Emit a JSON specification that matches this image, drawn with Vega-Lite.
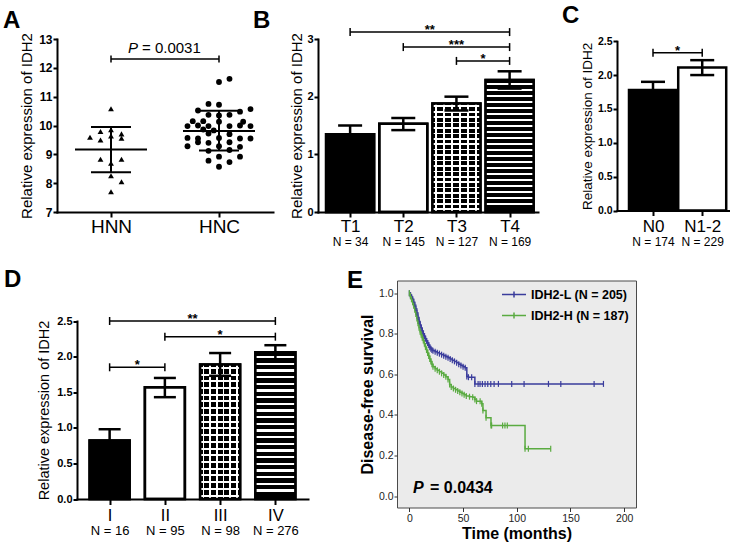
{
"$schema": "https://vega.github.io/schema/vega-lite/v6.json",
"background": "white",
"padding": {"left": 3, "top": 3, "right": 0, "bottom": 0},
"config": {
  "view": {"stroke": null},
  "font": "Liberation Sans",
  "axis": {"grid": false, "labelColor": "black", "titleColor": "black", "domainColor": "black", "tickColor": "black", "labelFont": "Liberation Sans", "titleFont": "Liberation Sans", "domainCap": "square", "labelFlush": false, "labelOverlap": false},
  "title": {"anchor": "start", "frame": "group", "fontSize": 24, "fontWeight": "bold", "color": "black", "font": "Liberation Sans", "baseline": "alphabetic", "offset": 12}
},
"columns": 1,
"spacing": 19.5,
"bounds": "full",
"align": "none",
"resolve": {"scale": {"color": "independent", "shape": "independent"}, "legend": {"color": "independent", "shape": "independent"}},
"concat": [
{"hconcat": [
{
 "width": 216, "height": 173,
 "title": {"text": "A", "dx": -54, "offset": 0},
 "resolve": {"axis": {"x": "independent"}},
 "layer": [
  {"data": {"values": [
    {"g":"HNN","j":0,"v":10.58},{"g":"HNN","j":-2,"v":9.59},{"g":"HNN","j":-1,"v":9.79},{"g":"HNN","j":-1,"v":9.5},{"g":"HNN","j":0,"v":9.64},{"g":"HNN","j":1,"v":9.71},{"g":"HNN","j":1,"v":9.56},{"g":"HNN","j":-1,"v":8.83},{"g":"HNN","j":0,"v":8.69},{"g":"HNN","j":1,"v":8.83},{"g":"HNN","j":0,"v":8.26},{"g":"HNN","j":1,"v":8.05},{"g":"HNN","j":0,"v":7.7},{"g":"HNN","j":0,"v":9.85},
    {"g":"HNC","j":0,"v":11.51},{"g":"HNC","j":1,"v":11.62},{"g":"HNC","j":-1,"v":10.75},{"g":"HNC","j":0,"v":10.72},{"g":"HNC","j":-2,"v":10.52},{"g":"HNC","j":2,"v":10.48},{"g":"HNC","j":3,"v":10.57},{"g":"HNC","j":-1,"v":10.37},{"g":"HNC","j":0,"v":10.35},{"g":"HNC","j":1,"v":10.37},{"g":"HNC","j":-2.5,"v":10.15},{"g":"HNC","j":-1.5,"v":10.15},{"g":"HNC","j":0,"v":10.13},{"g":"HNC","j":2.3,"v":10.13},{"g":"HNC","j":-3,"v":9.98},{"g":"HNC","j":-2,"v":10.0},{"g":"HNC","j":-1,"v":9.98},{"g":"HNC","j":1,"v":9.98},{"g":"HNC","j":2,"v":10.0},{"g":"HNC","j":3,"v":9.98},{"g":"HNC","j":-1.5,"v":9.86},{"g":"HNC","j":-0.5,"v":9.83},{"g":"HNC","j":-1,"v":9.72},{"g":"HNC","j":1,"v":9.7},{"g":"HNC","j":-3,"v":9.57},{"g":"HNC","j":-2,"v":9.55},{"g":"HNC","j":0,"v":9.57},{"g":"HNC","j":2,"v":9.55},{"g":"HNC","j":3,"v":9.55},{"g":"HNC","j":-2,"v":9.42},{"g":"HNC","j":-1,"v":9.4},{"g":"HNC","j":1,"v":9.42},{"g":"HNC","j":-3,"v":9.28},{"g":"HNC","j":0,"v":9.28},{"g":"HNC","j":2,"v":9.26},{"g":"HNC","j":-1,"v":9.12},{"g":"HNC","j":1,"v":9.15},{"g":"HNC","j":-1,"v":8.78},{"g":"HNC","j":0,"v":8.92},{"g":"HNC","j":1,"v":8.73},{"g":"HNC","j":2,"v":8.92},{"g":"HNC","j":0,"v":8.57}
   ]},
   "mark": {"type": "point", "filled": true, "color": "black", "opacity": 1, "size": 34},
   "encoding": {
    "x": {"field": "g", "type": "nominal", "scale": {"type": "point", "domain": ["HNN","HNC"], "padding": 0.5}, "title": null,
          "axis": {"orient": "bottom", "labelAngle": 0, "labelFontSize": 19, "labelPadding": 0, "tickSize": 5, "tickWidth": 2, "domainWidth": 2}},
    "xOffset": {"field": "j", "type": "quantitative", "scale": {"domain": [-3, 3], "range": [-31.5, 31.5]}},
    "y": {"field": "v", "type": "quantitative", "scale": {"domain": [7, 13], "nice": false, "zero": false},
          "axis": {"values": [7,8,9,10,11,12,13], "tickCount": 20, "format": "d", "labelOverlap": false, "labelFontSize": 12, "labelFontWeight": "bold", "labelPadding": 1, "tickSize": 4, "tickWidth": 2, "domainWidth": 2, "title": "Relative expression of IDH2", "titleFontSize": 15, "titleFontWeight": "normal", "titlePadding": 4}},
    "shape": {"field": "g", "type": "nominal", "scale": {"domain": ["HNN","HNC"], "range": ["triangle-up","circle"]}, "legend": null}
   }
  },
  {"data": {"values": [{"g":"HNN","mean":9.17,"hi":9.95,"lo":8.38},{"g":"HNC","mean":9.81,"hi":10.51,"lo":9.13}]},
   "layer": [
    {"mark": {"type": "rule", "strokeWidth": 2, "color": "black"},
     "encoding": {"x": {"field": "g", "type": "nominal", "axis": null}, "y": {"field": "lo", "type": "quantitative"}, "y2": {"field": "hi"}}},
    {"mark": {"type": "tick", "orient": "horizontal", "size": 72, "thickness": 2, "color": "black", "opacity": 1},
     "encoding": {"x": {"field": "g", "type": "nominal", "axis": null}, "y": {"field": "mean", "type": "quantitative"}}},
    {"mark": {"type": "tick", "orient": "horizontal", "size": 40, "thickness": 2, "color": "black", "opacity": 1},
     "encoding": {"x": {"field": "g", "type": "nominal", "axis": null}, "y": {"field": "hi", "type": "quantitative"}}},
    {"mark": {"type": "tick", "orient": "horizontal", "size": 40, "thickness": 2, "color": "black", "opacity": 1},
     "encoding": {"x": {"field": "g", "type": "nominal", "axis": null}, "y": {"field": "lo", "type": "quantitative"}}},
    {"mark": {"type": "text", "text": ""},
     "encoding": {"x": {"field": "g", "type": "nominal", "title": null,
       "axis": {"orient": "bottom", "offset": 23.4, "domain": false, "ticks": false, "tickSize": 0, "labelPadding": 0, "labelAngle": 0, "labelFontSize": 15.5, "labelExpr": "datum.value == 'HNN' ? 'N = 14' : 'N = 42'"}}}}
   ]
  },
  {"data": {"values": [{"a":"HNN","b":"HNC","y":12.31}]},
   "layer": [
    {"mark": {"type": "rule", "strokeWidth": 1.5, "color": "black"},
     "encoding": {"x": {"field": "a", "type": "nominal", "axis": null}, "x2": {"field": "b"}, "y": {"field": "y", "type": "quantitative"}}},
    {"mark": {"type": "point", "shape": "M0,-1L0,1", "size": 49, "filled": false, "color": "black", "strokeWidth": 1.5, "opacity": 1},
     "encoding": {"x": {"field": "a", "type": "nominal", "axis": null}, "y": {"field": "y", "type": "quantitative"}}},
    {"mark": {"type": "point", "shape": "M0,-1L0,1", "size": 49, "filled": false, "color": "black", "strokeWidth": 1.5, "opacity": 1},
     "encoding": {"x": {"field": "b", "type": "nominal", "axis": null}, "y": {"field": "y", "type": "quantitative"}}},
    {"mark": {"type": "text", "text": "P", "fontStyle": "italic", "fontSize": 15, "align": "left", "baseline": "alphabetic", "dx": 17, "dy": -6, "color": "black"},
     "encoding": {"x": {"field": "a", "type": "nominal", "axis": null}, "y": {"field": "y", "type": "quantitative"}}},
    {"mark": {"type": "text", "text": "= 0.0031", "fontSize": 15, "align": "left", "baseline": "alphabetic", "dx": 31, "dy": -6, "color": "black"},
     "encoding": {"x": {"field": "a", "type": "nominal", "axis": null}, "y": {"field": "y", "type": "quantitative"}}}
   ]
  }
 ]
},
{
 "width": 254, "height": 173,
 "title": {"text": "B", "dx": -65, "offset": -8.5},
 "resolve": {"axis": {"x": "independent"}},
 "data": {"values": [
   {"i":1,"cat":"T1","m":1.35,"lo":1.2,"hi":1.5},
   {"i":2,"cat":"T2","m":1.53,"lo":1.42,"hi":1.63},
   {"i":3,"cat":"T3","m":1.88,"lo":1.76,"hi":2.0},
   {"i":4,"cat":"T4","m":2.29,"lo":2.14,"hi":2.44}
 ]},
 "layer": [
  {"mark": {"type": "bar", "orient": "vertical", "size": 48, "stroke": "black", "strokeWidth": 2.5},
   "encoding": {
    "x": {"field": "i", "type": "quantitative", "title": null, "scale": {"domain": [0.49, 4.44], "range": [0, 220], "nice": false, "zero": false},
          "axis": {"orient": "bottom", "values": [1,2,3,4], "tickCount": 20, "labelExpr": "['','T1','T2','T3','T4'][datum.value]", "labelFontSize": 17, "labelPadding": 1, "tickSize": 5, "tickWidth": 2, "domainWidth": 2}},
    "y": {"field": "m", "type": "quantitative", "scale": {"domain": [0, 3], "nice": false},
          "axis": {"values": [0,1,2,3], "tickCount": 20, "format": "d", "labelOverlap": false, "labelFontSize": 11, "labelFontWeight": "bold", "labelPadding": 1, "tickSize": 4, "tickWidth": 2, "domainWidth": 2, "title": "Relative expression of IDH2", "titleFontSize": 15, "titleFontWeight": "normal", "titlePadding": 2}},
    "fill": {"condition": {"test": "datum.i == 2", "value": "white"}, "value": "black"}
   }},
  {"transform": [{"filter": "datum.i == 3"}],
   "mark": {"type": "bar", "orient": "vertical", "size": 48, "fill": {"gradient": "linear", "x1": 0, "y1": 0, "x2": 0, "y2": 1, "stops": [
    {"offset":0.0175,"color":"rgba(255,255,255,0)"},{"offset":0.0175,"color":"#ffffff"},{"offset":0.0325,"color":"#ffffff"},{"offset":0.0325,"color":"rgba(255,255,255,0)"},
    {"offset":0.0675,"color":"rgba(255,255,255,0)"},{"offset":0.0675,"color":"#ffffff"},{"offset":0.0825,"color":"#ffffff"},{"offset":0.0825,"color":"rgba(255,255,255,0)"},
    {"offset":0.1175,"color":"rgba(255,255,255,0)"},{"offset":0.1175,"color":"#ffffff"},{"offset":0.1325,"color":"#ffffff"},{"offset":0.1325,"color":"rgba(255,255,255,0)"},
    {"offset":0.1675,"color":"rgba(255,255,255,0)"},{"offset":0.1675,"color":"#ffffff"},{"offset":0.1825,"color":"#ffffff"},{"offset":0.1825,"color":"rgba(255,255,255,0)"},
    {"offset":0.2175,"color":"rgba(255,255,255,0)"},{"offset":0.2175,"color":"#ffffff"},{"offset":0.2325,"color":"#ffffff"},{"offset":0.2325,"color":"rgba(255,255,255,0)"},
    {"offset":0.2675,"color":"rgba(255,255,255,0)"},{"offset":0.2675,"color":"#ffffff"},{"offset":0.2825,"color":"#ffffff"},{"offset":0.2825,"color":"rgba(255,255,255,0)"},
    {"offset":0.3175,"color":"rgba(255,255,255,0)"},{"offset":0.3175,"color":"#ffffff"},{"offset":0.3325,"color":"#ffffff"},{"offset":0.3325,"color":"rgba(255,255,255,0)"},
    {"offset":0.3675,"color":"rgba(255,255,255,0)"},{"offset":0.3675,"color":"#ffffff"},{"offset":0.3825,"color":"#ffffff"},{"offset":0.3825,"color":"rgba(255,255,255,0)"},
    {"offset":0.4175,"color":"rgba(255,255,255,0)"},{"offset":0.4175,"color":"#ffffff"},{"offset":0.4325,"color":"#ffffff"},{"offset":0.4325,"color":"rgba(255,255,255,0)"},
    {"offset":0.4675,"color":"rgba(255,255,255,0)"},{"offset":0.4675,"color":"#ffffff"},{"offset":0.4825,"color":"#ffffff"},{"offset":0.4825,"color":"rgba(255,255,255,0)"},
    {"offset":0.5175,"color":"rgba(255,255,255,0)"},{"offset":0.5175,"color":"#ffffff"},{"offset":0.5325,"color":"#ffffff"},{"offset":0.5325,"color":"rgba(255,255,255,0)"},
    {"offset":0.5675,"color":"rgba(255,255,255,0)"},{"offset":0.5675,"color":"#ffffff"},{"offset":0.5825,"color":"#ffffff"},{"offset":0.5825,"color":"rgba(255,255,255,0)"},
    {"offset":0.6175,"color":"rgba(255,255,255,0)"},{"offset":0.6175,"color":"#ffffff"},{"offset":0.6325,"color":"#ffffff"},{"offset":0.6325,"color":"rgba(255,255,255,0)"},
    {"offset":0.6675,"color":"rgba(255,255,255,0)"},{"offset":0.6675,"color":"#ffffff"},{"offset":0.6825,"color":"#ffffff"},{"offset":0.6825,"color":"rgba(255,255,255,0)"},
    {"offset":0.7175,"color":"rgba(255,255,255,0)"},{"offset":0.7175,"color":"#ffffff"},{"offset":0.7325,"color":"#ffffff"},{"offset":0.7325,"color":"rgba(255,255,255,0)"},
    {"offset":0.7675,"color":"rgba(255,255,255,0)"},{"offset":0.7675,"color":"#ffffff"},{"offset":0.7825,"color":"#ffffff"},{"offset":0.7825,"color":"rgba(255,255,255,0)"},
    {"offset":0.8175,"color":"rgba(255,255,255,0)"},{"offset":0.8175,"color":"#ffffff"},{"offset":0.8325,"color":"#ffffff"},{"offset":0.8325,"color":"rgba(255,255,255,0)"},
    {"offset":0.8675,"color":"rgba(255,255,255,0)"},{"offset":0.8675,"color":"#ffffff"},{"offset":0.8825,"color":"#ffffff"},{"offset":0.8825,"color":"rgba(255,255,255,0)"},
    {"offset":0.9175,"color":"rgba(255,255,255,0)"},{"offset":0.9175,"color":"#ffffff"},{"offset":0.9325,"color":"#ffffff"},{"offset":0.9325,"color":"rgba(255,255,255,0)"},
    {"offset":0.9675,"color":"rgba(255,255,255,0)"},{"offset":0.9675,"color":"#ffffff"},{"offset":0.9825,"color":"#ffffff"},{"offset":0.9825,"color":"rgba(255,255,255,0)"}
   ]}},
   "encoding": {"x": {"field": "i", "type": "quantitative", "axis": null}, "y": {"field": "m", "type": "quantitative"}}},
  {"transform": [{"filter": "datum.i == 3"}],
   "mark": {"type": "bar", "orient": "vertical", "size": 48, "fill": {"gradient": "linear", "x1": 0, "y1": 0, "x2": 1, "y2": 0, "stops": [
    {"offset":0.0633,"color":"rgba(255,255,255,0)"},{"offset":0.0633,"color":"#ffffff"},{"offset":0.1033,"color":"#ffffff"},{"offset":0.1033,"color":"rgba(255,255,255,0)"},
    {"offset":0.23,"color":"rgba(255,255,255,0)"},{"offset":0.23,"color":"#ffffff"},{"offset":0.27,"color":"#ffffff"},{"offset":0.27,"color":"rgba(255,255,255,0)"},
    {"offset":0.3967,"color":"rgba(255,255,255,0)"},{"offset":0.3967,"color":"#ffffff"},{"offset":0.4367,"color":"#ffffff"},{"offset":0.4367,"color":"rgba(255,255,255,0)"},
    {"offset":0.5633,"color":"rgba(255,255,255,0)"},{"offset":0.5633,"color":"#ffffff"},{"offset":0.6033,"color":"#ffffff"},{"offset":0.6033,"color":"rgba(255,255,255,0)"},
    {"offset":0.73,"color":"rgba(255,255,255,0)"},{"offset":0.73,"color":"#ffffff"},{"offset":0.77,"color":"#ffffff"},{"offset":0.77,"color":"rgba(255,255,255,0)"},
    {"offset":0.8967,"color":"rgba(255,255,255,0)"},{"offset":0.8967,"color":"#ffffff"},{"offset":0.9367,"color":"#ffffff"},{"offset":0.9367,"color":"rgba(255,255,255,0)"}
   ]}},
   "encoding": {"x": {"field": "i", "type": "quantitative", "axis": null}, "y": {"field": "m", "type": "quantitative"}}},
  {"transform": [{"filter": "datum.i == 4"}],
   "mark": {"type": "bar", "orient": "vertical", "size": 48, "fill": {"gradient": "linear", "x1": 0, "y1": 0, "x2": 0, "y2": 1, "stops": [
    {"offset":0.025,"color":"rgba(255,255,255,0)"},{"offset":0.025,"color":"#ffffff"},{"offset":0.0409,"color":"#ffffff"},{"offset":0.0409,"color":"rgba(255,255,255,0)"},
    {"offset":0.0705,"color":"rgba(255,255,255,0)"},{"offset":0.0705,"color":"#ffffff"},{"offset":0.0864,"color":"#ffffff"},{"offset":0.0864,"color":"rgba(255,255,255,0)"},
    {"offset":0.1159,"color":"rgba(255,255,255,0)"},{"offset":0.1159,"color":"#ffffff"},{"offset":0.1318,"color":"#ffffff"},{"offset":0.1318,"color":"rgba(255,255,255,0)"},
    {"offset":0.1614,"color":"rgba(255,255,255,0)"},{"offset":0.1614,"color":"#ffffff"},{"offset":0.1773,"color":"#ffffff"},{"offset":0.1773,"color":"rgba(255,255,255,0)"},
    {"offset":0.2068,"color":"rgba(255,255,255,0)"},{"offset":0.2068,"color":"#ffffff"},{"offset":0.2227,"color":"#ffffff"},{"offset":0.2227,"color":"rgba(255,255,255,0)"},
    {"offset":0.2523,"color":"rgba(255,255,255,0)"},{"offset":0.2523,"color":"#ffffff"},{"offset":0.2682,"color":"#ffffff"},{"offset":0.2682,"color":"rgba(255,255,255,0)"},
    {"offset":0.2977,"color":"rgba(255,255,255,0)"},{"offset":0.2977,"color":"#ffffff"},{"offset":0.3136,"color":"#ffffff"},{"offset":0.3136,"color":"rgba(255,255,255,0)"},
    {"offset":0.3432,"color":"rgba(255,255,255,0)"},{"offset":0.3432,"color":"#ffffff"},{"offset":0.3591,"color":"#ffffff"},{"offset":0.3591,"color":"rgba(255,255,255,0)"},
    {"offset":0.3886,"color":"rgba(255,255,255,0)"},{"offset":0.3886,"color":"#ffffff"},{"offset":0.4045,"color":"#ffffff"},{"offset":0.4045,"color":"rgba(255,255,255,0)"},
    {"offset":0.4341,"color":"rgba(255,255,255,0)"},{"offset":0.4341,"color":"#ffffff"},{"offset":0.45,"color":"#ffffff"},{"offset":0.45,"color":"rgba(255,255,255,0)"},
    {"offset":0.4795,"color":"rgba(255,255,255,0)"},{"offset":0.4795,"color":"#ffffff"},{"offset":0.4955,"color":"#ffffff"},{"offset":0.4955,"color":"rgba(255,255,255,0)"},
    {"offset":0.525,"color":"rgba(255,255,255,0)"},{"offset":0.525,"color":"#ffffff"},{"offset":0.5409,"color":"#ffffff"},{"offset":0.5409,"color":"rgba(255,255,255,0)"},
    {"offset":0.5705,"color":"rgba(255,255,255,0)"},{"offset":0.5705,"color":"#ffffff"},{"offset":0.5864,"color":"#ffffff"},{"offset":0.5864,"color":"rgba(255,255,255,0)"},
    {"offset":0.6159,"color":"rgba(255,255,255,0)"},{"offset":0.6159,"color":"#ffffff"},{"offset":0.6318,"color":"#ffffff"},{"offset":0.6318,"color":"rgba(255,255,255,0)"},
    {"offset":0.6614,"color":"rgba(255,255,255,0)"},{"offset":0.6614,"color":"#ffffff"},{"offset":0.6773,"color":"#ffffff"},{"offset":0.6773,"color":"rgba(255,255,255,0)"},
    {"offset":0.7068,"color":"rgba(255,255,255,0)"},{"offset":0.7068,"color":"#ffffff"},{"offset":0.7227,"color":"#ffffff"},{"offset":0.7227,"color":"rgba(255,255,255,0)"},
    {"offset":0.7523,"color":"rgba(255,255,255,0)"},{"offset":0.7523,"color":"#ffffff"},{"offset":0.7682,"color":"#ffffff"},{"offset":0.7682,"color":"rgba(255,255,255,0)"},
    {"offset":0.7977,"color":"rgba(255,255,255,0)"},{"offset":0.7977,"color":"#ffffff"},{"offset":0.8136,"color":"#ffffff"},{"offset":0.8136,"color":"rgba(255,255,255,0)"},
    {"offset":0.8432,"color":"rgba(255,255,255,0)"},{"offset":0.8432,"color":"#ffffff"},{"offset":0.8591,"color":"#ffffff"},{"offset":0.8591,"color":"rgba(255,255,255,0)"},
    {"offset":0.8886,"color":"rgba(255,255,255,0)"},{"offset":0.8886,"color":"#ffffff"},{"offset":0.9045,"color":"#ffffff"},{"offset":0.9045,"color":"rgba(255,255,255,0)"},
    {"offset":0.9341,"color":"rgba(255,255,255,0)"},{"offset":0.9341,"color":"#ffffff"},{"offset":0.95,"color":"#ffffff"},{"offset":0.95,"color":"rgba(255,255,255,0)"}
   ]}},
   "encoding": {"x": {"field": "i", "type": "quantitative", "axis": null}, "y": {"field": "m", "type": "quantitative"}}},
  {"mark": {"type": "bar", "orient": "vertical", "size": 48, "fill": "transparent", "stroke": "black", "strokeWidth": 2.5},
   "encoding": {"x": {"field": "i", "type": "quantitative", "axis": null}, "y": {"field": "m", "type": "quantitative"}}},
  {"mark": {"type": "rule", "strokeWidth": 2.5, "color": "black"},
   "encoding": {"x": {"field": "i", "type": "quantitative", "axis": null}, "y": {"field": "lo", "type": "quantitative"}, "y2": {"field": "hi"}}},
  {"mark": {"type": "tick", "orient": "horizontal", "size": 24, "thickness": 2.5, "color": "black", "opacity": 1},
   "encoding": {"x": {"field": "i", "type": "quantitative", "axis": null}, "y": {"field": "hi", "type": "quantitative"}}},
  {"mark": {"type": "tick", "orient": "horizontal", "size": 24, "thickness": 2.5, "color": "black", "opacity": 1},
   "encoding": {"x": {"field": "i", "type": "quantitative", "axis": null}, "y": {"field": "lo", "type": "quantitative"}}},
  {"mark": {"type": "text", "text": ""},
   "encoding": {"x": {"field": "i", "type": "quantitative", "title": null,
     "axis": {"orient": "bottom", "offset": 24.4, "values": [1,2,3,4], "tickCount": 20, "domain": false, "ticks": false, "tickSize": 0, "labelPadding": 0, "labelFontSize": 12, "labelExpr": "['','N = 34','N = 145','N = 127','N = 169'][datum.value]"}}}},
  {"data": {"values": [{"from":1,"to":4,"y":3.12,"s":"**"},{"from":2,"to":4,"y":2.86,"s":"***"},{"from":3,"to":4,"y":2.62,"s":"*"}]},
   "layer": [
    {"mark": {"type": "rule", "strokeWidth": 1.5, "color": "black"},
     "encoding": {"x": {"field": "from", "type": "quantitative", "axis": null}, "x2": {"field": "to"}, "y": {"field": "y", "type": "quantitative"}}},
    {"mark": {"type": "point", "shape": "M0,-1L0,1", "size": 64, "filled": false, "color": "black", "strokeWidth": 1.5, "opacity": 1},
     "encoding": {"x": {"field": "from", "type": "quantitative", "axis": null}, "y": {"field": "y", "type": "quantitative"}}},
    {"mark": {"type": "point", "shape": "M0,-1L0,1", "size": 64, "filled": false, "color": "black", "strokeWidth": 1.5, "opacity": 1},
     "encoding": {"x": {"field": "to", "type": "quantitative", "axis": null}, "y": {"field": "y", "type": "quantitative"}}},
    {"transform": [{"calculate": "(datum.from + datum.to) / 2", "as": "mid"}],
     "mark": {"type": "text", "fontSize": 13, "fontWeight": "bold", "baseline": "alphabetic", "dy": 2, "color": "black"},
     "encoding": {"x": {"field": "mid", "type": "quantitative", "axis": null}, "y": {"field": "y", "type": "quantitative"}, "text": {"field": "s"}}}
   ]
  }
 ]
},
{
 "width": 113, "height": 171.5,
 "title": {"text": "C", "dx": -55, "offset": 8.5},
 "resolve": {"axis": {"x": "independent"}},
 "data": {"values": [
   {"i":1,"cat":"N0","m":1.78,"lo":1.66,"hi":1.9},
   {"i":2,"cat":"N1-2","m":2.11,"lo":2.0,"hi":2.22}
 ]},
 "layer": [
  {"mark": {"type": "bar", "orient": "vertical", "size": 48, "stroke": "black", "strokeWidth": 2.5},
   "encoding": {
    "x": {"field": "i", "type": "quantitative", "title": null, "scale": {"domain": [0.37, 2.463], "nice": false, "zero": false},
          "axis": {"orient": "bottom", "values": [1,2], "tickCount": 20, "labelExpr": "['','N0','N1-2'][datum.value]", "labelFontSize": 17, "labelPadding": 3, "tickSize": 5, "tickWidth": 2, "domainWidth": 2}},
    "y": {"field": "m", "type": "quantitative", "scale": {"domain": [0, 2.5], "nice": false, "range": [171.5, 2.2]},
          "axis": {"values": [0,0.5,1,1.5,2,2.5], "tickCount": 20, "format": ".1f", "labelOverlap": false, "labelFontSize": 10.5, "labelFontWeight": "bold", "labelPadding": 1, "tickSize": 4, "tickWidth": 2, "domainWidth": 2, "title": "Relative expression of IDH2", "titleFontSize": 13.5, "titleFontWeight": "normal", "titlePadding": 3}},
    "fill": {"condition": {"test": "datum.i == 2", "value": "white"}, "value": "black"}
   }},
  {"mark": {"type": "rule", "strokeWidth": 2.5, "color": "black"},
   "encoding": {"x": {"field": "i", "type": "quantitative", "axis": null}, "y": {"field": "lo", "type": "quantitative"}, "y2": {"field": "hi"}}},
  {"mark": {"type": "tick", "orient": "horizontal", "size": 24, "thickness": 2.5, "color": "black", "opacity": 1},
   "encoding": {"x": {"field": "i", "type": "quantitative", "axis": null}, "y": {"field": "hi", "type": "quantitative"}}},
  {"mark": {"type": "tick", "orient": "horizontal", "size": 24, "thickness": 2.5, "color": "black", "opacity": 1},
   "encoding": {"x": {"field": "i", "type": "quantitative", "axis": null}, "y": {"field": "lo", "type": "quantitative"}}},
  {"mark": {"type": "text", "text": ""},
   "encoding": {"x": {"field": "i", "type": "quantitative", "title": null,
     "axis": {"orient": "bottom", "offset": 26, "values": [1,2], "tickCount": 20, "domain": false, "ticks": false, "tickSize": 0, "labelPadding": 0, "labelFontSize": 12, "labelExpr": "['','N = 174','N = 229'][datum.value]"}}}},
  {"data": {"values": [{"from":1,"to":2,"y":2.33,"s":"*"}]},
   "layer": [
    {"mark": {"type": "rule", "strokeWidth": 1.5, "color": "black"},
     "encoding": {"x": {"field": "from", "type": "quantitative", "axis": null}, "x2": {"field": "to"}, "y": {"field": "y", "type": "quantitative"}}},
    {"mark": {"type": "point", "shape": "M0,-1L0,1", "size": 64, "filled": false, "color": "black", "strokeWidth": 1.5, "opacity": 1},
     "encoding": {"x": {"field": "from", "type": "quantitative", "axis": null}, "y": {"field": "y", "type": "quantitative"}}},
    {"mark": {"type": "point", "shape": "M0,-1L0,1", "size": 64, "filled": false, "color": "black", "strokeWidth": 1.5, "opacity": 1},
     "encoding": {"x": {"field": "to", "type": "quantitative", "axis": null}, "y": {"field": "y", "type": "quantitative"}}},
    {"transform": [{"calculate": "(datum.from + datum.to) / 2", "as": "mid"}],
     "mark": {"type": "text", "fontSize": 13, "fontWeight": "bold", "baseline": "alphabetic", "dy": 2, "color": "black"},
     "encoding": {"x": {"field": "mid", "type": "quantitative", "axis": null}, "y": {"field": "y", "type": "quantitative"}, "text": {"field": "s"}}}
   ]
  }
 ]
}
], "spacing": 45, "bounds": "flush"},
{"hconcat": [
{
 "width": 251, "height": 218.5,
 "title": {"text": "D", "dx": -53, "offset": -11},
 "resolve": {"axis": {"x": "independent"}},
 "data": {"values": [
   {"i":1,"cat":"I","m":0.82,"lo":0.66,"hi":0.98},
   {"i":2,"cat":"II","m":1.57,"lo":1.43,"hi":1.7},
   {"i":3,"cat":"III","m":1.89,"lo":1.73,"hi":2.05},
   {"i":4,"cat":"IV","m":2.06,"lo":1.96,"hi":2.16}
 ]},
 "layer": [
  {"mark": {"type": "bar", "orient": "vertical", "size": 40, "stroke": "black", "strokeWidth": 2.5},
   "encoding": {
    "x": {"field": "i", "type": "quantitative", "title": null, "scale": {"domain": [0.5, 4.5], "range": [20, 251], "nice": false, "zero": false},
          "axis": {"orient": "bottom", "values": [1,2,3,4], "tickCount": 20, "labelExpr": "['','I','II','III','IV'][datum.value]", "labelFontSize": 16.5, "labelPadding": 3, "tickSize": 5.5, "tickWidth": 2, "domainWidth": 2}},
    "y": {"field": "m", "type": "quantitative", "scale": {"domain": [0, 2.5], "nice": false, "range": [218.5, 40.5]},
          "axis": {"offset": -20, "values": [0,0.5,1,1.5,2,2.5], "tickCount": 20, "format": ".1f", "labelOverlap": false, "labelFontSize": 11, "labelFontWeight": "bold", "labelPadding": 1, "tickSize": 4, "tickWidth": 2, "domainWidth": 2, "title": "Relative expression of IDH2", "titleFontSize": 14.5, "titleFontWeight": "normal", "titlePadding": 5}},
    "fill": {"condition": {"test": "datum.i == 2", "value": "white"}, "value": "black"}
   }},
  {"transform": [{"filter": "datum.i == 3"}],
   "mark": {"type": "bar", "orient": "vertical", "size": 40, "fill": {"gradient": "linear", "x1": 0, "y1": 0, "x2": 0, "y2": 1, "stops": [
    {"offset":0.0175,"color":"rgba(255,255,255,0)"},{"offset":0.0175,"color":"#ffffff"},{"offset":0.0325,"color":"#ffffff"},{"offset":0.0325,"color":"rgba(255,255,255,0)"},
    {"offset":0.0675,"color":"rgba(255,255,255,0)"},{"offset":0.0675,"color":"#ffffff"},{"offset":0.0825,"color":"#ffffff"},{"offset":0.0825,"color":"rgba(255,255,255,0)"},
    {"offset":0.1175,"color":"rgba(255,255,255,0)"},{"offset":0.1175,"color":"#ffffff"},{"offset":0.1325,"color":"#ffffff"},{"offset":0.1325,"color":"rgba(255,255,255,0)"},
    {"offset":0.1675,"color":"rgba(255,255,255,0)"},{"offset":0.1675,"color":"#ffffff"},{"offset":0.1825,"color":"#ffffff"},{"offset":0.1825,"color":"rgba(255,255,255,0)"},
    {"offset":0.2175,"color":"rgba(255,255,255,0)"},{"offset":0.2175,"color":"#ffffff"},{"offset":0.2325,"color":"#ffffff"},{"offset":0.2325,"color":"rgba(255,255,255,0)"},
    {"offset":0.2675,"color":"rgba(255,255,255,0)"},{"offset":0.2675,"color":"#ffffff"},{"offset":0.2825,"color":"#ffffff"},{"offset":0.2825,"color":"rgba(255,255,255,0)"},
    {"offset":0.3175,"color":"rgba(255,255,255,0)"},{"offset":0.3175,"color":"#ffffff"},{"offset":0.3325,"color":"#ffffff"},{"offset":0.3325,"color":"rgba(255,255,255,0)"},
    {"offset":0.3675,"color":"rgba(255,255,255,0)"},{"offset":0.3675,"color":"#ffffff"},{"offset":0.3825,"color":"#ffffff"},{"offset":0.3825,"color":"rgba(255,255,255,0)"},
    {"offset":0.4175,"color":"rgba(255,255,255,0)"},{"offset":0.4175,"color":"#ffffff"},{"offset":0.4325,"color":"#ffffff"},{"offset":0.4325,"color":"rgba(255,255,255,0)"},
    {"offset":0.4675,"color":"rgba(255,255,255,0)"},{"offset":0.4675,"color":"#ffffff"},{"offset":0.4825,"color":"#ffffff"},{"offset":0.4825,"color":"rgba(255,255,255,0)"},
    {"offset":0.5175,"color":"rgba(255,255,255,0)"},{"offset":0.5175,"color":"#ffffff"},{"offset":0.5325,"color":"#ffffff"},{"offset":0.5325,"color":"rgba(255,255,255,0)"},
    {"offset":0.5675,"color":"rgba(255,255,255,0)"},{"offset":0.5675,"color":"#ffffff"},{"offset":0.5825,"color":"#ffffff"},{"offset":0.5825,"color":"rgba(255,255,255,0)"},
    {"offset":0.6175,"color":"rgba(255,255,255,0)"},{"offset":0.6175,"color":"#ffffff"},{"offset":0.6325,"color":"#ffffff"},{"offset":0.6325,"color":"rgba(255,255,255,0)"},
    {"offset":0.6675,"color":"rgba(255,255,255,0)"},{"offset":0.6675,"color":"#ffffff"},{"offset":0.6825,"color":"#ffffff"},{"offset":0.6825,"color":"rgba(255,255,255,0)"},
    {"offset":0.7175,"color":"rgba(255,255,255,0)"},{"offset":0.7175,"color":"#ffffff"},{"offset":0.7325,"color":"#ffffff"},{"offset":0.7325,"color":"rgba(255,255,255,0)"},
    {"offset":0.7675,"color":"rgba(255,255,255,0)"},{"offset":0.7675,"color":"#ffffff"},{"offset":0.7825,"color":"#ffffff"},{"offset":0.7825,"color":"rgba(255,255,255,0)"},
    {"offset":0.8175,"color":"rgba(255,255,255,0)"},{"offset":0.8175,"color":"#ffffff"},{"offset":0.8325,"color":"#ffffff"},{"offset":0.8325,"color":"rgba(255,255,255,0)"},
    {"offset":0.8675,"color":"rgba(255,255,255,0)"},{"offset":0.8675,"color":"#ffffff"},{"offset":0.8825,"color":"#ffffff"},{"offset":0.8825,"color":"rgba(255,255,255,0)"},
    {"offset":0.9175,"color":"rgba(255,255,255,0)"},{"offset":0.9175,"color":"#ffffff"},{"offset":0.9325,"color":"#ffffff"},{"offset":0.9325,"color":"rgba(255,255,255,0)"},
    {"offset":0.9675,"color":"rgba(255,255,255,0)"},{"offset":0.9675,"color":"#ffffff"},{"offset":0.9825,"color":"#ffffff"},{"offset":0.9825,"color":"rgba(255,255,255,0)"}
   ]}},
   "encoding": {"x": {"field": "i", "type": "quantitative", "axis": null}, "y": {"field": "m", "type": "quantitative"}}},
  {"transform": [{"filter": "datum.i == 3"}],
   "mark": {"type": "bar", "orient": "vertical", "size": 40, "fill": {"gradient": "linear", "x1": 0, "y1": 0, "x2": 1, "y2": 0, "stops": [
    {"offset":0.0633,"color":"rgba(255,255,255,0)"},{"offset":0.0633,"color":"#ffffff"},{"offset":0.1033,"color":"#ffffff"},{"offset":0.1033,"color":"rgba(255,255,255,0)"},
    {"offset":0.23,"color":"rgba(255,255,255,0)"},{"offset":0.23,"color":"#ffffff"},{"offset":0.27,"color":"#ffffff"},{"offset":0.27,"color":"rgba(255,255,255,0)"},
    {"offset":0.3967,"color":"rgba(255,255,255,0)"},{"offset":0.3967,"color":"#ffffff"},{"offset":0.4367,"color":"#ffffff"},{"offset":0.4367,"color":"rgba(255,255,255,0)"},
    {"offset":0.5633,"color":"rgba(255,255,255,0)"},{"offset":0.5633,"color":"#ffffff"},{"offset":0.6033,"color":"#ffffff"},{"offset":0.6033,"color":"rgba(255,255,255,0)"},
    {"offset":0.73,"color":"rgba(255,255,255,0)"},{"offset":0.73,"color":"#ffffff"},{"offset":0.77,"color":"#ffffff"},{"offset":0.77,"color":"rgba(255,255,255,0)"},
    {"offset":0.8967,"color":"rgba(255,255,255,0)"},{"offset":0.8967,"color":"#ffffff"},{"offset":0.9367,"color":"#ffffff"},{"offset":0.9367,"color":"rgba(255,255,255,0)"}
   ]}},
   "encoding": {"x": {"field": "i", "type": "quantitative", "axis": null}, "y": {"field": "m", "type": "quantitative"}}},
  {"transform": [{"filter": "datum.i == 4"}],
   "mark": {"type": "bar", "orient": "vertical", "size": 40, "fill": {"gradient": "linear", "x1": 0, "y1": 0, "x2": 0, "y2": 1, "stops": [
    {"offset":0.025,"color":"rgba(255,255,255,0)"},{"offset":0.025,"color":"#ffffff"},{"offset":0.0409,"color":"#ffffff"},{"offset":0.0409,"color":"rgba(255,255,255,0)"},
    {"offset":0.0705,"color":"rgba(255,255,255,0)"},{"offset":0.0705,"color":"#ffffff"},{"offset":0.0864,"color":"#ffffff"},{"offset":0.0864,"color":"rgba(255,255,255,0)"},
    {"offset":0.1159,"color":"rgba(255,255,255,0)"},{"offset":0.1159,"color":"#ffffff"},{"offset":0.1318,"color":"#ffffff"},{"offset":0.1318,"color":"rgba(255,255,255,0)"},
    {"offset":0.1614,"color":"rgba(255,255,255,0)"},{"offset":0.1614,"color":"#ffffff"},{"offset":0.1773,"color":"#ffffff"},{"offset":0.1773,"color":"rgba(255,255,255,0)"},
    {"offset":0.2068,"color":"rgba(255,255,255,0)"},{"offset":0.2068,"color":"#ffffff"},{"offset":0.2227,"color":"#ffffff"},{"offset":0.2227,"color":"rgba(255,255,255,0)"},
    {"offset":0.2523,"color":"rgba(255,255,255,0)"},{"offset":0.2523,"color":"#ffffff"},{"offset":0.2682,"color":"#ffffff"},{"offset":0.2682,"color":"rgba(255,255,255,0)"},
    {"offset":0.2977,"color":"rgba(255,255,255,0)"},{"offset":0.2977,"color":"#ffffff"},{"offset":0.3136,"color":"#ffffff"},{"offset":0.3136,"color":"rgba(255,255,255,0)"},
    {"offset":0.3432,"color":"rgba(255,255,255,0)"},{"offset":0.3432,"color":"#ffffff"},{"offset":0.3591,"color":"#ffffff"},{"offset":0.3591,"color":"rgba(255,255,255,0)"},
    {"offset":0.3886,"color":"rgba(255,255,255,0)"},{"offset":0.3886,"color":"#ffffff"},{"offset":0.4045,"color":"#ffffff"},{"offset":0.4045,"color":"rgba(255,255,255,0)"},
    {"offset":0.4341,"color":"rgba(255,255,255,0)"},{"offset":0.4341,"color":"#ffffff"},{"offset":0.45,"color":"#ffffff"},{"offset":0.45,"color":"rgba(255,255,255,0)"},
    {"offset":0.4795,"color":"rgba(255,255,255,0)"},{"offset":0.4795,"color":"#ffffff"},{"offset":0.4955,"color":"#ffffff"},{"offset":0.4955,"color":"rgba(255,255,255,0)"},
    {"offset":0.525,"color":"rgba(255,255,255,0)"},{"offset":0.525,"color":"#ffffff"},{"offset":0.5409,"color":"#ffffff"},{"offset":0.5409,"color":"rgba(255,255,255,0)"},
    {"offset":0.5705,"color":"rgba(255,255,255,0)"},{"offset":0.5705,"color":"#ffffff"},{"offset":0.5864,"color":"#ffffff"},{"offset":0.5864,"color":"rgba(255,255,255,0)"},
    {"offset":0.6159,"color":"rgba(255,255,255,0)"},{"offset":0.6159,"color":"#ffffff"},{"offset":0.6318,"color":"#ffffff"},{"offset":0.6318,"color":"rgba(255,255,255,0)"},
    {"offset":0.6614,"color":"rgba(255,255,255,0)"},{"offset":0.6614,"color":"#ffffff"},{"offset":0.6773,"color":"#ffffff"},{"offset":0.6773,"color":"rgba(255,255,255,0)"},
    {"offset":0.7068,"color":"rgba(255,255,255,0)"},{"offset":0.7068,"color":"#ffffff"},{"offset":0.7227,"color":"#ffffff"},{"offset":0.7227,"color":"rgba(255,255,255,0)"},
    {"offset":0.7523,"color":"rgba(255,255,255,0)"},{"offset":0.7523,"color":"#ffffff"},{"offset":0.7682,"color":"#ffffff"},{"offset":0.7682,"color":"rgba(255,255,255,0)"},
    {"offset":0.7977,"color":"rgba(255,255,255,0)"},{"offset":0.7977,"color":"#ffffff"},{"offset":0.8136,"color":"#ffffff"},{"offset":0.8136,"color":"rgba(255,255,255,0)"},
    {"offset":0.8432,"color":"rgba(255,255,255,0)"},{"offset":0.8432,"color":"#ffffff"},{"offset":0.8591,"color":"#ffffff"},{"offset":0.8591,"color":"rgba(255,255,255,0)"},
    {"offset":0.8886,"color":"rgba(255,255,255,0)"},{"offset":0.8886,"color":"#ffffff"},{"offset":0.9045,"color":"#ffffff"},{"offset":0.9045,"color":"rgba(255,255,255,0)"},
    {"offset":0.9341,"color":"rgba(255,255,255,0)"},{"offset":0.9341,"color":"#ffffff"},{"offset":0.95,"color":"#ffffff"},{"offset":0.95,"color":"rgba(255,255,255,0)"}
   ]}},
   "encoding": {"x": {"field": "i", "type": "quantitative", "axis": null}, "y": {"field": "m", "type": "quantitative"}}},
  {"mark": {"type": "bar", "orient": "vertical", "size": 40, "fill": "transparent", "stroke": "black", "strokeWidth": 2.5},
   "encoding": {"x": {"field": "i", "type": "quantitative", "axis": null}, "y": {"field": "m", "type": "quantitative"}}},
  {"mark": {"type": "rule", "strokeWidth": 2.5, "color": "black"},
   "encoding": {"x": {"field": "i", "type": "quantitative", "axis": null}, "y": {"field": "lo", "type": "quantitative"}, "y2": {"field": "hi"}}},
  {"mark": {"type": "tick", "orient": "horizontal", "size": 22, "thickness": 2.5, "color": "black", "opacity": 1},
   "encoding": {"x": {"field": "i", "type": "quantitative", "axis": null}, "y": {"field": "hi", "type": "quantitative"}}},
  {"mark": {"type": "tick", "orient": "horizontal", "size": 22, "thickness": 2.5, "color": "black", "opacity": 1},
   "encoding": {"x": {"field": "i", "type": "quantitative", "axis": null}, "y": {"field": "lo", "type": "quantitative"}}},
  {"mark": {"type": "text", "text": ""},
   "encoding": {"x": {"field": "i", "type": "quantitative", "title": null,
     "axis": {"orient": "bottom", "offset": 25, "values": [1,2,3,4], "tickCount": 20, "domain": false, "ticks": false, "tickSize": 0, "labelPadding": 0, "labelFontSize": 13, "labelExpr": "['','N = 16','N = 95','N = 98','N = 276'][datum.value]"}}}},
  {"data": {"values": [{"from":1,"to":4,"y":2.5,"s":"**"},{"from":2,"to":4,"y":2.28,"s":"*"},{"from":1,"to":2,"y":1.85,"s":"*"}]},
   "layer": [
    {"mark": {"type": "rule", "strokeWidth": 1.5, "color": "black"},
     "encoding": {"x": {"field": "from", "type": "quantitative", "axis": null}, "x2": {"field": "to"}, "y": {"field": "y", "type": "quantitative"}}},
    {"mark": {"type": "point", "shape": "M0,-1L0,1", "size": 64, "filled": false, "color": "black", "strokeWidth": 1.5, "opacity": 1},
     "encoding": {"x": {"field": "from", "type": "quantitative", "axis": null}, "y": {"field": "y", "type": "quantitative"}}},
    {"mark": {"type": "point", "shape": "M0,-1L0,1", "size": 64, "filled": false, "color": "black", "strokeWidth": 1.5, "opacity": 1},
     "encoding": {"x": {"field": "to", "type": "quantitative", "axis": null}, "y": {"field": "y", "type": "quantitative"}}},
    {"transform": [{"calculate": "(datum.from + datum.to) / 2", "as": "mid"}],
     "mark": {"type": "text", "fontSize": 13, "fontWeight": "bold", "baseline": "alphabetic", "dy": 2, "color": "black"},
     "encoding": {"x": {"field": "mid", "type": "quantitative", "axis": null}, "y": {"field": "y", "type": "quantitative"}, "text": {"field": "s"}}}
   ]
  }
 ]
},
{
 "width": 239, "height": 227,
 "title": {"text": "E", "dx": -50, "offset": -12},
 "view": {"fill": "#ebebeb", "stroke": "#4a4a4a", "strokeWidth": 1},
 "layer": [
  {"data": {"values": [
    {"grp":"IDH2-L (N = 205)","t":0,"s":1.0},{"grp":"IDH2-L (N = 205)","t":1,"s":0.99},{"grp":"IDH2-L (N = 205)","t":2,"s":0.98},{"grp":"IDH2-L (N = 205)","t":3,"s":0.97},{"grp":"IDH2-L (N = 205)","t":4,"s":0.955},{"grp":"IDH2-L (N = 205)","t":5,"s":0.94},{"grp":"IDH2-L (N = 205)","t":6,"s":0.922},{"grp":"IDH2-L (N = 205)","t":7,"s":0.902},{"grp":"IDH2-L (N = 205)","t":8,"s":0.88},{"grp":"IDH2-L (N = 205)","t":9,"s":0.86},{"grp":"IDH2-L (N = 205)","t":10,"s":0.843},{"grp":"IDH2-L (N = 205)","t":11,"s":0.828},{"grp":"IDH2-L (N = 205)","t":12,"s":0.814},{"grp":"IDH2-L (N = 205)","t":13,"s":0.8},{"grp":"IDH2-L (N = 205)","t":14,"s":0.788},{"grp":"IDH2-L (N = 205)","t":15,"s":0.776},{"grp":"IDH2-L (N = 205)","t":16,"s":0.765},{"grp":"IDH2-L (N = 205)","t":17,"s":0.754},{"grp":"IDH2-L (N = 205)","t":18,"s":0.744},{"grp":"IDH2-L (N = 205)","t":19,"s":0.734},{"grp":"IDH2-L (N = 205)","t":20,"s":0.726},{"grp":"IDH2-L (N = 205)","t":21,"s":0.72},{"grp":"IDH2-L (N = 205)","t":22,"s":0.716},{"grp":"IDH2-L (N = 205)","t":24,"s":0.711},{"grp":"IDH2-L (N = 205)","t":26,"s":0.707},{"grp":"IDH2-L (N = 205)","t":28,"s":0.702},{"grp":"IDH2-L (N = 205)","t":30,"s":0.697},{"grp":"IDH2-L (N = 205)","t":32,"s":0.692},{"grp":"IDH2-L (N = 205)","t":34,"s":0.687},{"grp":"IDH2-L (N = 205)","t":36,"s":0.682},{"grp":"IDH2-L (N = 205)","t":38,"s":0.676},{"grp":"IDH2-L (N = 205)","t":40,"s":0.67},{"grp":"IDH2-L (N = 205)","t":42,"s":0.664},{"grp":"IDH2-L (N = 205)","t":44,"s":0.657},{"grp":"IDH2-L (N = 205)","t":46,"s":0.65},{"grp":"IDH2-L (N = 205)","t":48,"s":0.644},{"grp":"IDH2-L (N = 205)","t":50,"s":0.638},{"grp":"IDH2-L (N = 205)","t":52,"s":0.632},{"grp":"IDH2-L (N = 205)","t":53.5,"s":0.59},{"grp":"IDH2-L (N = 205)","t":55,"s":0.586},{"grp":"IDH2-L (N = 205)","t":58,"s":0.586},{"grp":"IDH2-L (N = 205)","t":61,"s":0.553},{"grp":"IDH2-L (N = 205)","t":64,"s":0.553},{"grp":"IDH2-L (N = 205)","t":65.8,"s":0.553},{"grp":"IDH2-L (N = 205)","t":68,"s":0.553},{"grp":"IDH2-L (N = 205)","t":70.5,"s":0.553},{"grp":"IDH2-L (N = 205)","t":73,"s":0.553},{"grp":"IDH2-L (N = 205)","t":75.8,"s":0.553},{"grp":"IDH2-L (N = 205)","t":78.9,"s":0.553},{"grp":"IDH2-L (N = 205)","t":82.9,"s":0.553},{"grp":"IDH2-L (N = 205)","t":95.3,"s":0.553},{"grp":"IDH2-L (N = 205)","t":106.8,"s":0.553},{"grp":"IDH2-L (N = 205)","t":129.5,"s":0.553},{"grp":"IDH2-L (N = 205)","t":141,"s":0.553},{"grp":"IDH2-L (N = 205)","t":172,"s":0.553},{"grp":"IDH2-L (N = 205)","t":180.7,"s":0.553},
    {"grp":"IDH2-H (N = 187)","t":0,"s":1.0},{"grp":"IDH2-H (N = 187)","t":1,"s":0.985},{"grp":"IDH2-H (N = 187)","t":2,"s":0.97},{"grp":"IDH2-H (N = 187)","t":3,"s":0.955},{"grp":"IDH2-H (N = 187)","t":4,"s":0.938},{"grp":"IDH2-H (N = 187)","t":5,"s":0.918},{"grp":"IDH2-H (N = 187)","t":6,"s":0.897},{"grp":"IDH2-H (N = 187)","t":7,"s":0.875},{"grp":"IDH2-H (N = 187)","t":8,"s":0.852},{"grp":"IDH2-H (N = 187)","t":9,"s":0.83},{"grp":"IDH2-H (N = 187)","t":10,"s":0.81},{"grp":"IDH2-H (N = 187)","t":11,"s":0.795},{"grp":"IDH2-H (N = 187)","t":12,"s":0.781},{"grp":"IDH2-H (N = 187)","t":13,"s":0.767},{"grp":"IDH2-H (N = 187)","t":14,"s":0.751},{"grp":"IDH2-H (N = 187)","t":15,"s":0.735},{"grp":"IDH2-H (N = 187)","t":16,"s":0.72},{"grp":"IDH2-H (N = 187)","t":17,"s":0.705},{"grp":"IDH2-H (N = 187)","t":18,"s":0.69},{"grp":"IDH2-H (N = 187)","t":19,"s":0.676},{"grp":"IDH2-H (N = 187)","t":20,"s":0.663},{"grp":"IDH2-H (N = 187)","t":21,"s":0.65},{"grp":"IDH2-H (N = 187)","t":22,"s":0.638},{"grp":"IDH2-H (N = 187)","t":24,"s":0.628},{"grp":"IDH2-H (N = 187)","t":26,"s":0.62},{"grp":"IDH2-H (N = 187)","t":28,"s":0.613},{"grp":"IDH2-H (N = 187)","t":30,"s":0.605},{"grp":"IDH2-H (N = 187)","t":32,"s":0.597},{"grp":"IDH2-H (N = 187)","t":34,"s":0.588},{"grp":"IDH2-H (N = 187)","t":36,"s":0.575},{"grp":"IDH2-H (N = 187)","t":37.5,"s":0.55},{"grp":"IDH2-H (N = 187)","t":39,"s":0.538},{"grp":"IDH2-H (N = 187)","t":41,"s":0.53},{"grp":"IDH2-H (N = 187)","t":43,"s":0.524},{"grp":"IDH2-H (N = 187)","t":45,"s":0.518},{"grp":"IDH2-H (N = 187)","t":47,"s":0.512},{"grp":"IDH2-H (N = 187)","t":49,"s":0.506},{"grp":"IDH2-H (N = 187)","t":51,"s":0.499},{"grp":"IDH2-H (N = 187)","t":53,"s":0.493},{"grp":"IDH2-H (N = 187)","t":56,"s":0.49},{"grp":"IDH2-H (N = 187)","t":59,"s":0.487},{"grp":"IDH2-H (N = 187)","t":61,"s":0.476},{"grp":"IDH2-H (N = 187)","t":62.5,"s":0.468},{"grp":"IDH2-H (N = 187)","t":65.9,"s":0.468},{"grp":"IDH2-H (N = 187)","t":67.4,"s":0.455},{"grp":"IDH2-H (N = 187)","t":68.5,"s":0.422},{"grp":"IDH2-H (N = 187)","t":71.4,"s":0.386},{"grp":"IDH2-H (N = 187)","t":76,"s":0.348},{"grp":"IDH2-H (N = 187)","t":76.6,"s":0.348},{"grp":"IDH2-H (N = 187)","t":86.8,"s":0.348},{"grp":"IDH2-H (N = 187)","t":89,"s":0.348},{"grp":"IDH2-H (N = 187)","t":91.2,"s":0.348},{"grp":"IDH2-H (N = 187)","t":107.7,"s":0.233},{"grp":"IDH2-H (N = 187)","t":110.8,"s":0.233},{"grp":"IDH2-H (N = 187)","t":131.6,"s":0.233}
   ]},
   "mark": {"type": "line", "interpolate": "step-after", "strokeWidth": 1.5, "point": {"shape": "M0,-1L0,1", "size": 36, "filled": false, "strokeWidth": 1.2}},
   "encoding": {
    "x": {"field": "t", "type": "quantitative", "scale": {"domain": [-11.5, 211], "nice": false, "zero": false},
          "axis": {"values": [0,50,100,150,200], "tickCount": 20, "domain": false, "tickSize": 4, "tickWidth": 1, "tickColor": "#333", "labelFontSize": 10.5, "labelColor": "#222", "labelPadding": 2, "title": "Time (months)", "titleFontSize": 16, "titleFontWeight": "bold", "titlePadding": 1}},
    "y": {"field": "s", "type": "quantitative", "scale": {"domain": [-0.056, 1.0625], "nice": false, "zero": false},
          "axis": {"values": [0,0.2,0.4,0.6,0.8,1.0], "tickCount": 20, "format": ".1f", "labelOverlap": false, "domain": false, "tickSize": 3, "tickWidth": 1, "tickColor": "#333", "labelFontSize": 10.5, "labelColor": "#222", "labelPadding": 1, "title": "Disease-free survival", "titleFontSize": 16, "titleFontWeight": "bold", "titlePadding": 3}},
    "color": {"field": "grp", "type": "nominal", "scale": {"domain": ["IDH2-L (N = 205)","IDH2-H (N = 187)"], "range": ["#3a3c9c","#5aab41"]},
              "legend": {"orient": "top-right", "title": null, "offset": 7, "padding": 0, "symbolType": "M-2,0L2,0M0,-0.5L0,0.5", "symbolSize": 144, "symbolStrokeWidth": 1.5, "labelOffset": 10, "labelFontSize": 12.5, "labelFontWeight": "bold", "labelFont": "Liberation Sans", "labelColor": "black", "rowPadding": 7}}
   }
  },
  {"data": {"values": [{"t": 3.4, "s": 0.038}]},
   "layer": [
    {"mark": {"type": "text", "text": "P", "fontStyle": "italic", "fontWeight": "bold", "fontSize": 16, "align": "left", "baseline": "middle", "color": "black"},
     "encoding": {"x": {"field": "t", "type": "quantitative"}, "y": {"field": "s", "type": "quantitative"}}},
    {"mark": {"type": "text", "text": "= 0.0434", "fontWeight": "bold", "fontSize": 16, "align": "left", "baseline": "middle", "dx": 17, "color": "black"},
     "encoding": {"x": {"field": "t", "type": "quantitative"}, "y": {"field": "s", "type": "quantitative"}}}
   ]
  }
 ]
}
], "spacing": 89, "bounds": "flush", "resolve": {"scale": {"color": "independent"}, "legend": {"color": "independent"}}}
]
}
